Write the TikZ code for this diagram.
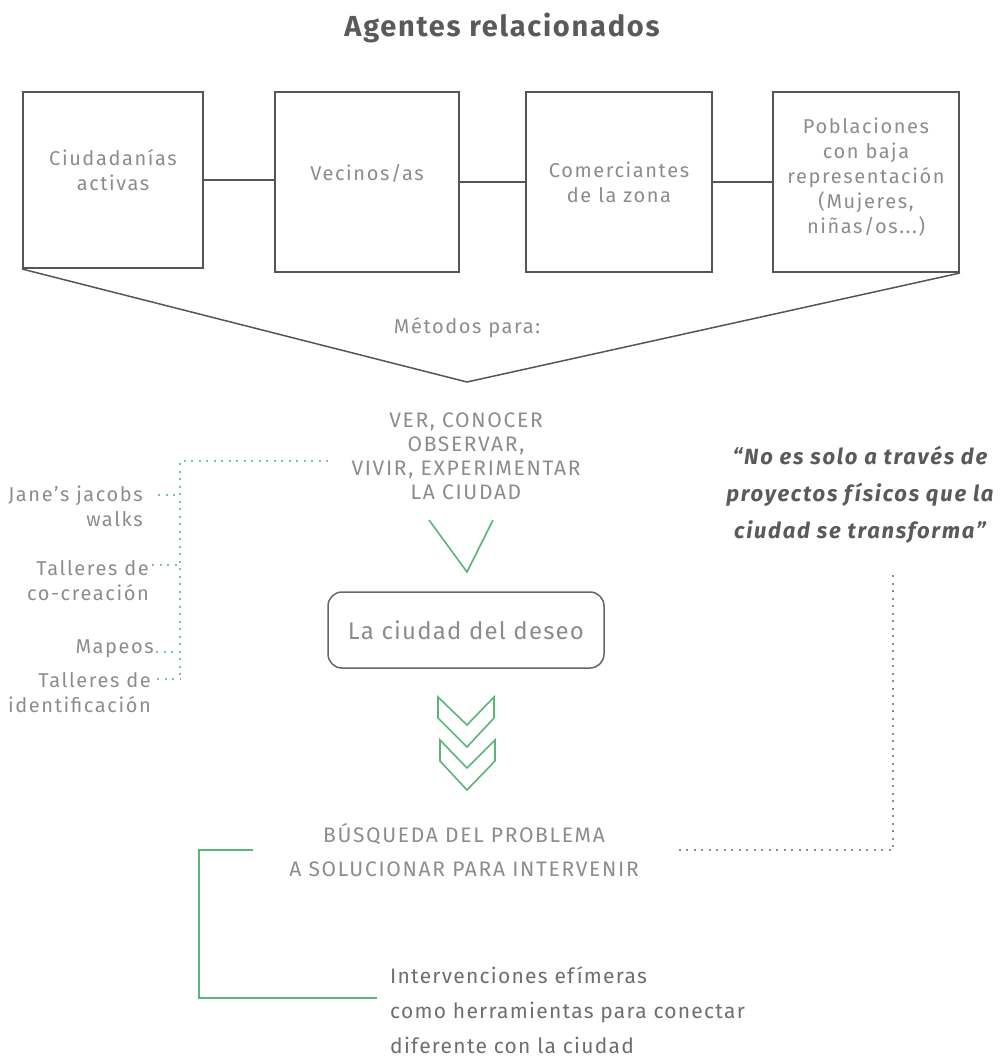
\documentclass[tikz,border=0pt]{standalone}
\usepackage{fontspec}
\setmainfont{Fira Sans}
\definecolor{boxc}{HTML}{555555}
\definecolor{txt}{HTML}{8C8C8C}
\definecolor{dark}{HTML}{5A5A5A}
\definecolor{mid}{HTML}{6E6E6E}
\definecolor{grn}{HTML}{5DB47A}
\definecolor{dotgray}{HTML}{80908F}
\newcommand{\trk}[1]{\addfontfeature{LetterSpace=#1}}
\begin{document}
\begin{tikzpicture}[x=1pt,y=-1pt,
  agent/.style={draw=boxc, line width=2pt, inner sep=0pt, align=center,
    font=\fontsize{20}{25}\selectfont\trk{8}, text=txt},
  link/.style={draw=boxc, line width=2.6pt},
  funnel/.style={draw=boxc, line width=1.5pt},
  plain/.style={inner sep=0pt, text=txt, font=\fontsize{20}{24}\selectfont\trk{8}, align=center},
  lab/.style={inner sep=0pt, text=txt, font=\fontsize{20}{25}\selectfont\trk{8}, align=right},
  grline/.style={draw=grn, line width=1.6pt},
  dotg/.style={draw=grn!80, line width=1.8pt, dash pattern=on 2pt off 5.5pt},
  dotgr/.style={draw=dotgray, line width=1.8pt, dash pattern=on 2pt off 5.5pt}]
\useasboundingbox (0,0) rectangle (1003,1060);

% title
\node[inner sep=0pt, text=dark, font=\fontsize{29}{32}\selectfont\bfseries\trk{6}] (title) at (502,28) {Agentes relacionados};

% agent boxes
\node[agent, minimum width=180pt, minimum height=176pt, text depth=20pt] (b1) at (113,180) {Ciudadanías\\activas};
\node[agent, minimum width=184pt, minimum height=180pt, text depth=20pt] (b2) at (367,182) {Vecinos/as};
\node[agent, minimum width=186pt, minimum height=180pt] (b3) at (619,182) {Comerciantes\\de la zona};
\node[agent, minimum width=186pt, minimum height=180pt, text depth=12pt] (b4) at (866,182) {Poblaciones\\con baja\\representación\\(Mujeres,\\niñas/os...)};

\draw[link] (b1.east) -- (b1.east -| b2.west);
\draw[link] (b2.east) -- (b3.west);
\draw[link] (b3.east) -- (b4.west);

% funnel
\coordinate (tip) at (467,382);
\draw[funnel] (b1.south west) -- (tip) -- (b4.south east);
\node[plain] (met) at (467,328) {Métodos para:};

% ver
\node[plain, font=\fontsize{21}{24}\selectfont\trk{8}] (ver) at (466,456) {VER, CONOCER\\OBSERVAR,\\VIVIR, EXPERIMENTAR\\LA CIUDAD};

% green V
\coordinate (v1) at (429,520);
\coordinate (v2) at (467,572);
\coordinate (v3) at (493,520);
\draw[grline] (v1) -- (v2) -- (v3);

% desire box
\node[draw=boxc!90, line width=1.5pt, rounded corners=14pt, minimum width=276pt, minimum height=76pt,
  inner sep=0pt, text=txt, font=\fontsize{24}{28}\selectfont\trk{5}] (deseo) at (466,630) {La ciudad del deseo};

% chevrons
\draw[grline, line join=miter] (438,697) -- (467,725) -- (494,697) -- (494,718) -- (467,747) -- (438,718) -- cycle;
\draw[grline, line join=miter] (440,740) -- (467,768) -- (495,740) -- (495,761) -- (467,790) -- (440,761) -- cycle;

% busqueda
\node[plain, font=\fontsize{21}{34}\selectfont\trk{8}] (busq) at (464,850) {BÚSQUEDA DEL PROBLEMA\\A SOLUCIONAR PARA INTERVENIR};

% left methods
\coordinate (dtop) at (328,461);
\coordinate (dcorner) at (180,461);
\coordinate (dbot) at (180,680);
\draw[dotg] (dtop) -- (dcorner) -- (dbot);

\node[lab, anchor=east] (l1) at (143,506) {Jane's jacobs\\walks};
\node[lab, anchor=east] (l2) at (149,581) {Talleres de\\co-creación};
\node[lab, anchor=east] (l3) at (154,649) {Mapeos};
\node[lab, anchor=east] (l4) at (151,693) {Talleres de\\identificación};

\draw[dotg] ([xshift=15pt,yshift=11pt]l1.east) -- ([yshift=11pt]l1.east -| dcorner);
\draw[dotg] ([xshift=3pt,yshift=16pt]l2.east) -- ([yshift=16pt]l2.east -| dcorner);
\draw[dotg] ([xshift=2pt,yshift=-3pt]l3.east) -- ([yshift=-3pt]l3.east -| dcorner);
\draw[dotg] ([xshift=6pt,yshift=14pt]l4.east) -- ([yshift=14pt]l4.east -| dcorner);

% quote
\node[inner sep=0pt, align=center, text=dark, font=\fontsize{22}{37}\selectfont\bfseries\itshape\trk{8}] (quote) at (860,495)
  {“No es solo a través de\\proyectos físicos que la\\ciudad se transforma”};
\coordinate (qdot) at (893,575);
\coordinate (qcorner) at (893,850);
\coordinate (qend) at (678,850);
\draw[dotgr] (qdot) -- (qcorner) -- (qend);

% green bracket
\coordinate (g1) at (253,850);
\coordinate (g2) at (199,850);
\coordinate (g3) at (199,998);
\coordinate (g4) at (377,998);
\draw[draw=grn, line width=2pt] (g1) -- (g2) -- (g3) -- (g4);

\node[inner sep=0pt, anchor=west, align=left, text=mid, font=\fontsize{21}{35}\selectfont\trk{6}] (interv) at (390,1010)
  {Intervenciones efímeras\\como herramientas para conectar\\diferente con la ciudad};
\end{tikzpicture}
\end{document}
